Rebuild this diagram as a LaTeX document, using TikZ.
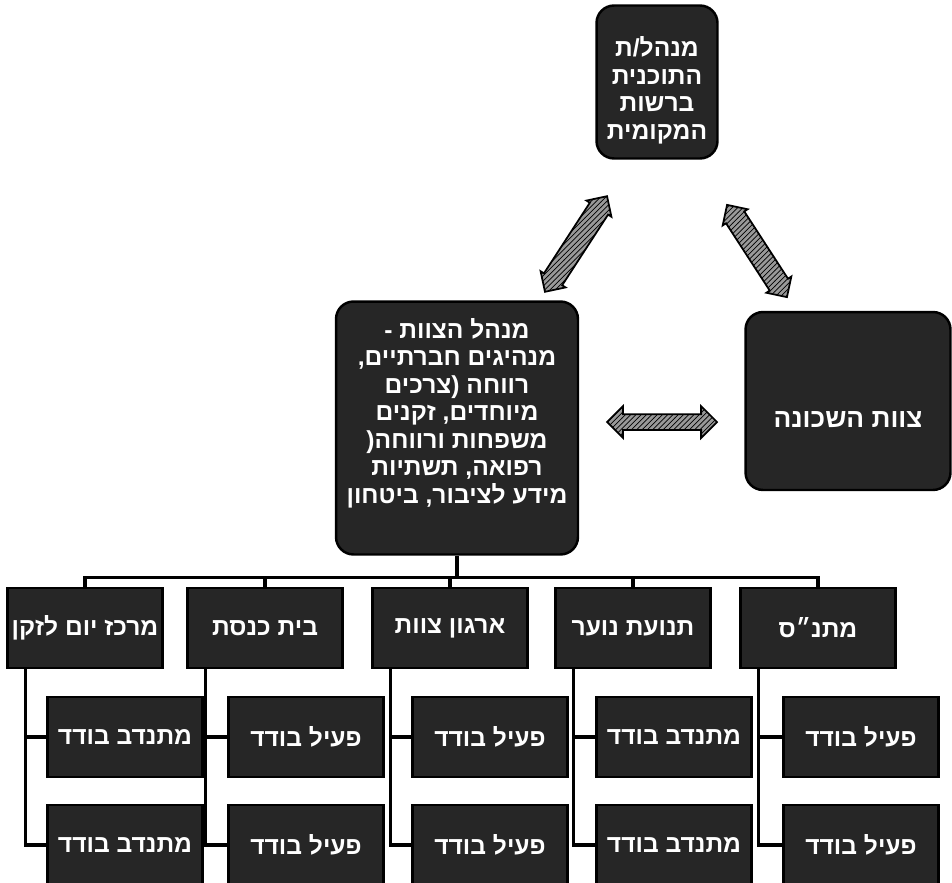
\documentclass[tikz,border=0pt]{standalone}
\usepackage{fontspec}
\setmainfont{Liberation Sans}
\newfontfamily\hebfont[Script=Hebrew]{Liberation Sans}
\TeXXeTstate=1
\usetikzlibrary{shapes.arrows, patterns, calc}
\newcommand{\heb}[1]{\beginR #1\endR}

\tikzset{
  darkbox/.style={draw=black, line width=1.4pt, fill=black!85, text=white, align=center, inner sep=2pt,
    font=\hebfont\bfseries\fontsize{14}{15.6}\selectfont},
  roundbox/.style={darkbox, rounded corners=0.35cm},
  unitbox/.style={darkbox, minimum width=3.1cm, minimum height=1.6cm},
  memberbox/.style={darkbox, minimum width=3.1cm, minimum height=1.6cm},
  linkarrow/.style={double arrow, draw=black, line width=1pt, preaction={fill=black!40},
    pattern=north east lines, pattern color=black, inner xsep=0pt, inner ysep=0.2cm,
    double arrow head extend=0.08cm},
  tree/.style={line width=2pt}
}

\begin{document}
\begin{tikzpicture}[x=0.02cm, y=-0.02cm]
        \useasboundingbox (0,0) rectangle (952,882); %page size
        % upper level
        \node[roundbox, minimum width=2.42cm, minimum height=3.06cm] (mgr) at (657,82)
            {\rule{0pt}{0.73cm}\heb{מנהל/ת}\\\heb{התוכנית}\\\heb{ברשות}\\\heb{המקומית}};
        \node[roundbox, minimum width=4.84cm, minimum height=5.06cm] (team) at (457,428)
            {\heb{מנהל הצוות -}\\\heb{מנהיגים חברתיים\kern0pt,}\\\heb{רווחה (צרכים}\\\heb{מיוחדים\kern0pt, זקנים}\\
             \heb{משפחות ורווחה\kern0pt(}\\\heb{רפואה\kern0pt, תשתיות}\\\heb{מידע לציבור\kern0pt, ביטחון}\\[4pt]\mbox{}};
        \node[roundbox, minimum width=4.1cm, minimum height=3.56cm, text height=1.05cm,
            font=\hebfont\bfseries\fontsize{15}{17}\selectfont] (hood) at (848,401) {\heb{צוות השכונה}};
        % double arrows
        \node[linkarrow, rotate=57, minimum height=2.28cm] (upLeft) at (576,244) {};
        \node[linkarrow, rotate=-57, minimum height=2.2cm] (upRight) at (757,251) {};
        \node[linkarrow, minimum height=2.2cm, inner ysep=0.14cm, double arrow head extend=0.16cm] (across) at (662,422) {};
        % units
        \node[unitbox] (elder) at (85,628) {\heb{מרכז יום לזקן}};
        \node[unitbox] (shul) at (265,628) {\heb{בית כנסת}};
        \node[unitbox] (org) at (450,628) {\heb{ארגון צוות}};
        \node[unitbox] (youth) at (633,628) {\heb{תנועת נוער}};
        \node[unitbox] (matnas) at (818,628) {\heb{מתנ״ס}};
        % single members
        \node[memberbox] (elder1) at (125,737) {\heb{מתנדב בודד}};
        \node[memberbox] (elder2) at (125,845) {\heb{מתנדב בודד}};
        \node[memberbox] (shul1) at (306,737) {\heb{פעיל בודד}};
        \node[memberbox] (shul2) at (306,845) {\heb{פעיל בודד}};
        \node[memberbox] (org1) at (490,737) {\heb{פעיל בודד}};
        \node[memberbox] (org2) at (490,845) {\heb{פעיל בודד}};
        \node[memberbox] (youth1) at (674,737) {\heb{מתנדב בודד}};
        \node[memberbox] (youth2) at (674,845) {\heb{מתנדב בודד}};
        \node[memberbox] (matnas1) at (861,737) {\heb{פעיל בודד}};
        \node[memberbox] (matnas2) at (861,845) {\heb{פעיל בודד}};
        % tree lines
        \coordinate (bus) at ($(team.south)+(0,22)$);
        \draw[tree] (team.south) -- (bus);
        \draw[tree] (elder.north) |- (bus);
        \draw[tree] (shul.north) |- (bus);
        \draw[tree] (org.north) |- (bus);
        \draw[tree] (youth.north) |- (bus);
        \draw[tree] (matnas.north) |- (bus);
        \draw[tree] ([xshift=0.38cm]elder.south west) |- (elder1.west);
        \draw[tree] ([xshift=0.38cm]elder.south west) |- (elder2.west);
        \draw[tree] ([xshift=0.38cm]shul.south west) |- (shul1.west);
        \draw[tree] ([xshift=0.38cm]shul.south west) |- (shul2.west);
        \draw[tree] ([xshift=0.38cm]org.south west) |- (org1.west);
        \draw[tree] ([xshift=0.38cm]org.south west) |- (org2.west);
        \draw[tree] ([xshift=0.38cm]youth.south west) |- (youth1.west);
        \draw[tree] ([xshift=0.38cm]youth.south west) |- (youth2.west);
        \draw[tree] ([xshift=0.38cm]matnas.south west) |- (matnas1.west);
        \draw[tree] ([xshift=0.38cm]matnas.south west) |- (matnas2.west);
\end{tikzpicture}
\end{document}
